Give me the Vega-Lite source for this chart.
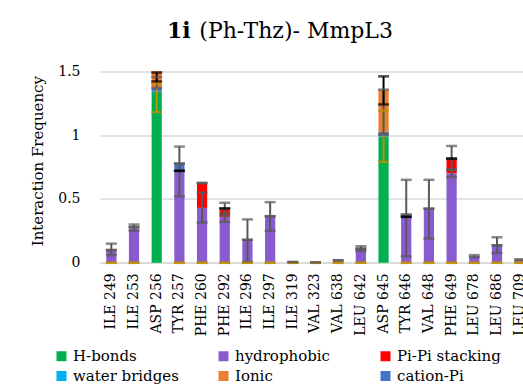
{
  "$schema": "https://vega.github.io/schema/vega-lite/v6.json",
  "width": 431,
  "height": 204.3,
  "padding": {"left": 30, "top": 20.5, "right": 0, "bottom": 0},
  "background": "white",
  "title": {
    "text": "1i",
    "subtitle": "\u200b\u00a0\u00a0\u00a0\u00a0\u2009(Ph-Thz)- MmpL3",
    "anchor": "start",
    "frame": "group",
    "dx": 67,
    "font": "DejaVu Serif",
    "fontSize": 22,
    "fontWeight": "bold",
    "color": "#000000",
    "subtitleFont": "DejaVu Serif",
    "subtitleFontSize": 22,
    "subtitleFontWeight": "normal",
    "subtitleColor": "#000000",
    "subtitlePadding": -22,
    "offset": 15
  },
  "datasets": {
    "bars": [
      {"residue": "ILE 249", "type": "hydrophobic", "s": 2, "value": 0.10},
      {"residue": "ILE 253", "type": "hydrophobic", "s": 2, "value": 0.27},
      {"residue": "ASP 256", "type": "H-bonds", "s": 1, "value": 1.34},
      {"residue": "ASP 256", "type": "cation-Pi", "s": 5, "value": 0.03},
      {"residue": "ASP 256", "type": "Ionic", "s": 6, "value": 0.13},
      {"residue": "TYR 257", "type": "hydrophobic", "s": 2, "value": 0.72},
      {"residue": "TYR 257", "type": "cation-Pi", "s": 5, "value": 0.06},
      {"residue": "PHE 260", "type": "hydrophobic", "s": 2, "value": 0.43},
      {"residue": "PHE 260", "type": "Pi-Pi stacking", "s": 3, "value": 0.195},
      {"residue": "PHE 292", "type": "hydrophobic", "s": 2, "value": 0.36},
      {"residue": "PHE 292", "type": "Pi-Pi stacking", "s": 3, "value": 0.055},
      {"residue": "ILE 296", "type": "hydrophobic", "s": 2, "value": 0.18},
      {"residue": "ILE 297", "type": "hydrophobic", "s": 2, "value": 0.365},
      {"residue": "ILE 319", "type": "hydrophobic", "s": 2, "value": 0.005},
      {"residue": "VAL 323", "type": "hydrophobic", "s": 2, "value": 0.002},
      {"residue": "VAL 638", "type": "hydrophobic", "s": 2, "value": 0.015},
      {"residue": "LEU 642", "type": "hydrophobic", "s": 2, "value": 0.11},
      {"residue": "ASP 645", "type": "H-bonds", "s": 1, "value": 0.99},
      {"residue": "ASP 645", "type": "cation-Pi", "s": 5, "value": 0.035},
      {"residue": "ASP 645", "type": "Ionic", "s": 6, "value": 0.33},
      {"residue": "TYR 646", "type": "hydrophobic", "s": 2, "value": 0.355},
      {"residue": "TYR 646", "type": "cation-Pi", "s": 5, "value": 0.015},
      {"residue": "VAL 648", "type": "hydrophobic", "s": 2, "value": 0.425},
      {"residue": "PHE 649", "type": "hydrophobic", "s": 2, "value": 0.70},
      {"residue": "PHE 649", "type": "Pi-Pi stacking", "s": 3, "value": 0.11},
      {"residue": "LEU 678", "type": "hydrophobic", "s": 2, "value": 0.05},
      {"residue": "LEU 686", "type": "hydrophobic", "s": 2, "value": 0.14},
      {"residue": "LEU 709", "type": "hydrophobic", "s": 2, "value": 0.02}
    ],
    "errs": [
      {"residue": "ILE 249", "series": "H-bonds", "lo": 0, "hi": 0},
      {"residue": "ILE 253", "series": "H-bonds", "lo": 0, "hi": 0},
      {"residue": "TYR 257", "series": "H-bonds", "lo": 0, "hi": 0},
      {"residue": "PHE 260", "series": "H-bonds", "lo": 0, "hi": 0},
      {"residue": "PHE 292", "series": "H-bonds", "lo": 0, "hi": 0},
      {"residue": "ILE 296", "series": "H-bonds", "lo": 0, "hi": 0},
      {"residue": "ILE 297", "series": "H-bonds", "lo": 0, "hi": 0},
      {"residue": "ILE 319", "series": "H-bonds", "lo": 0, "hi": 0},
      {"residue": "VAL 323", "series": "H-bonds", "lo": 0, "hi": 0},
      {"residue": "VAL 638", "series": "H-bonds", "lo": 0, "hi": 0},
      {"residue": "LEU 642", "series": "H-bonds", "lo": 0, "hi": 0},
      {"residue": "TYR 646", "series": "H-bonds", "lo": 0, "hi": 0},
      {"residue": "VAL 648", "series": "H-bonds", "lo": 0, "hi": 0},
      {"residue": "PHE 649", "series": "H-bonds", "lo": 0, "hi": 0},
      {"residue": "LEU 678", "series": "H-bonds", "lo": 0, "hi": 0},
      {"residue": "LEU 686", "series": "H-bonds", "lo": 0, "hi": 0},
      {"residue": "LEU 709", "series": "H-bonds", "lo": 0, "hi": 0},
      {"residue": "ASP 256", "series": "H-bonds", "lo": 1.18, "hi": 1.40},
      {"residue": "ASP 645", "series": "H-bonds", "lo": 0.79, "hi": 1.19},
      {"residue": "ILE 249", "series": "hydrophobic", "lo": 0.06, "hi": 0.15},
      {"residue": "ILE 249", "series": "hydrophobic", "lo": 0.10, "hi": 0.10},
      {"residue": "ILE 253", "series": "hydrophobic", "lo": 0.25, "hi": 0.30},
      {"residue": "ILE 253", "series": "hydrophobic", "lo": 0.28, "hi": 0.28},
      {"residue": "ASP 256", "series": "hydrophobic", "lo": 1.37, "hi": 1.455},
      {"residue": "TYR 257", "series": "hydrophobic", "lo": 0.52, "hi": 0.91},
      {"residue": "TYR 257", "series": "hydrophobic", "lo": 0.777, "hi": 0.777},
      {"residue": "PHE 260", "series": "hydrophobic", "lo": 0.315, "hi": 0.55},
      {"residue": "PHE 260", "series": "hydrophobic", "lo": 0.625, "hi": 0.625},
      {"residue": "PHE 292", "series": "hydrophobic", "lo": 0.32, "hi": 0.47},
      {"residue": "PHE 292", "series": "hydrophobic", "lo": 0.37, "hi": 0.39},
      {"residue": "ILE 296", "series": "hydrophobic", "lo": 0.005, "hi": 0.34},
      {"residue": "ILE 296", "series": "hydrophobic", "lo": 0.18, "hi": 0.18},
      {"residue": "ILE 297", "series": "hydrophobic", "lo": 0.25, "hi": 0.475},
      {"residue": "ILE 297", "series": "hydrophobic", "lo": 0.365, "hi": 0.365},
      {"residue": "ILE 319", "series": "hydrophobic", "lo": 0.006, "hi": 0.006},
      {"residue": "VAL 323", "series": "hydrophobic", "lo": 0.003, "hi": 0.003},
      {"residue": "VAL 638", "series": "hydrophobic", "lo": 0.02, "hi": 0.02},
      {"residue": "LEU 642", "series": "hydrophobic", "lo": 0.09, "hi": 0.13},
      {"residue": "LEU 642", "series": "hydrophobic", "lo": 0.11, "hi": 0.11},
      {"residue": "ASP 645", "series": "hydrophobic", "lo": 1.006, "hi": 1.356},
      {"residue": "TYR 646", "series": "hydrophobic", "lo": 0.05, "hi": 0.65},
      {"residue": "TYR 646", "series": "hydrophobic", "lo": 0.377, "hi": 0.377},
      {"residue": "VAL 648", "series": "hydrophobic", "lo": 0.19, "hi": 0.65},
      {"residue": "VAL 648", "series": "hydrophobic", "lo": 0.424, "hi": 0.424},
      {"residue": "PHE 649", "series": "hydrophobic", "lo": 0.672, "hi": 0.915},
      {"residue": "PHE 649", "series": "hydrophobic", "lo": 0.73, "hi": 0.73},
      {"residue": "LEU 678", "series": "hydrophobic", "lo": 0.045, "hi": 0.06},
      {"residue": "LEU 686", "series": "hydrophobic", "lo": 0.077, "hi": 0.20},
      {"residue": "LEU 686", "series": "hydrophobic", "lo": 0.137, "hi": 0.137},
      {"residue": "LEU 709", "series": "hydrophobic", "lo": 0.025, "hi": 0.025},
      {"residue": "ASP 256", "series": "Ionic", "lo": 1.42, "hi": 1.49},
      {"residue": "TYR 257", "series": "Ionic", "lo": 0.72, "hi": 0.72},
      {"residue": "PHE 292", "series": "Ionic", "lo": 0.425, "hi": 0.425},
      {"residue": "ASP 645", "series": "Ionic", "lo": 1.24, "hi": 1.46},
      {"residue": "TYR 646", "series": "Ionic", "lo": 0.36, "hi": 0.36},
      {"residue": "PHE 649", "series": "Ionic", "lo": 0.816, "hi": 0.816}
    ]
  },
  "encoding": {
    "x": {
      "field": "residue",
      "type": "nominal",
      "title": null,
      "scale": {
        "domain": ["ILE 249","ILE 253","ASP 256","TYR 257","PHE 260","PHE 292","ILE 296","ILE 297","ILE 319","VAL 323","VAL 638","LEU 642","ASP 645","TYR 646","VAL 648","PHE 649","LEU 678","LEU 686","LEU 709"],
        "paddingInner": 0.55,
        "paddingOuter": 0.275
      },
      "axis": {
        "labelAngle": -90,
        "labelFont": "DejaVu Serif",
        "labelFontSize": 14,
        "labelColor": "#000000",
        "labelPadding": 10,
        "ticks": false,
        "domain": true,
        "domainColor": "#D9D9D9",
        "domainWidth": 1.5,
        "grid": false
      }
    },
    "y": {
      "type": "quantitative",
      "scale": {"domain": [0, 1.6], "nice": false},
      "title": "Interaction Frequency",
      "axis": {
        "values": [0, 0.5, 1, 1.5],
        "format": "~g",
        "labelFont": "DejaVu Serif",
        "labelFontSize": 14,
        "labelColor": "#000000",
        "labelPadding": 20,
        "ticks": false,
        "domain": false,
        "grid": true,
        "gridColor": "#D9D9D9",
        "gridWidth": 1.5,
        "titleFont": "DejaVu Serif",
        "titleFontSize": 15,
        "titleFontWeight": "normal",
        "titleColor": "#000000",
        "titlePadding": 12
      }
    }
  },
  "layer": [
    {
      "data": {"name": "bars"},
      "mark": {"type": "bar"},
      "encoding": {
        "y": {
          "field": "value",
          "type": "quantitative",
          "stack": "zero",
          "scale": {"domain": [0, 1.6], "nice": false},
          "title": "Interaction Frequency"
        },
        "color": {
          "field": "type",
          "type": "nominal",
          "scale": {
            "domain": ["H-bonds", "hydrophobic", "Pi-Pi stacking", "water bridges", "Ionic", "cation-Pi"],
            "range": ["#00B050", "#8A5BCF", "#FF0000", "#00B0F0", "#ED7D31", "#4472C4"]
          },
          "legend": {
            "orient": "none",
            "legendX": -46,
            "legendY": 290,
            "title": null,
            "columns": 3,
            "direction": "horizontal",
            "gridAlign": "all",
            "columnPadding": 37,
            "rowPadding": 4,
            "symbolType": "square",
            "symbolSize": 100,
            "symbolStrokeWidth": 0,
            "labelFont": "DejaVu Serif",
            "labelFontSize": 15,
            "labelColor": "#000000",
            "labelOffset": 4,
            "labelLimit": 300,
            "padding": 0
          }
        },
        "order": {"field": "s", "type": "quantitative"}
      }
    },
    {
      "data": {"name": "errs"},
      "mark": {"type": "rule", "strokeWidth": 2},
      "encoding": {
        "y": {"field": "lo", "type": "quantitative", "title": "Interaction Frequency"},
        "y2": {"field": "hi"},
        "color": {
          "field": "series",
          "type": "nominal",
          "scale": {"domain": ["H-bonds", "hydrophobic", "Ionic"], "range": ["#BF9000", "#595959", "#000000"]},
          "legend": null
        }
      }
    },
    {
      "data": {"name": "errs"},
      "mark": {"type": "tick", "thickness": 2.5, "size": 11},
      "encoding": {
        "y": {"field": "lo", "type": "quantitative", "title": "Interaction Frequency"},
        "color": {
          "field": "series",
          "type": "nominal",
          "scale": {"domain": ["H-bonds", "hydrophobic", "Ionic"], "range": ["#BF9000", "#595959", "#000000"]},
          "legend": null
        }
      }
    },
    {
      "data": {"name": "errs"},
      "mark": {"type": "tick", "thickness": 2.5, "size": 11},
      "encoding": {
        "y": {"field": "hi", "type": "quantitative", "title": "Interaction Frequency"},
        "color": {
          "field": "series",
          "type": "nominal",
          "scale": {"domain": ["H-bonds", "hydrophobic", "Ionic"], "range": ["#BF9000", "#595959", "#000000"]},
          "legend": null
        }
      }
    }
  ],
  "resolve": {"scale": {"color": "independent"}, "legend": {"color": "independent"}},
  "config": {
    "view": {"stroke": null},
    "font": "DejaVu Serif"
  }
}
